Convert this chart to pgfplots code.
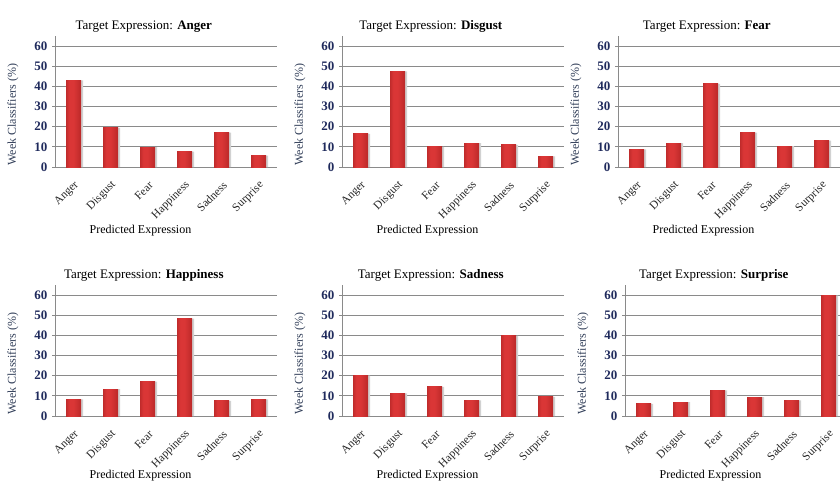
\documentclass[border=0pt]{standalone}
\usepackage{pgfplots}
\pgfplotsset{compat=1.18}
\usepackage{pgfplotstable}
\usepackage{fontspec}
\setmainfont{Liberation Serif}

\definecolor{tickblue}{HTML}{1F2A5C}
\definecolor{labelblue}{HTML}{33405A}
\definecolor{gridgray}{HTML}{8A8A8A}
\definecolor{bardark}{HTML}{861313}
\definecolor{barmid}{HTML}{DA3636}
\definecolor{barright}{HTML}{961A1A}

\pgfdeclarehorizontalshading{barshade}{100bp}{%
  color(0bp)=(bardark); color(36bp)=(barmid); color(50bp)=(barmid);
  color(64bp)=(barmid!80!bardark); color(100bp)=(barright)}

% share of weak classifiers (%) per predicted expression (rows)
% for each target expression (columns)
\pgfplotstableread{
idx anger disgust fear happiness sadness surprise
0   43.0  16.4    8.8  8.2       20.0    6.0
1   19.4  47.5    11.8 13.3      11.2    6.9
2   9.9   10.0    41.2 17.0      14.4    12.7
3   7.6   11.9    17.0 48.3      7.7     9.4
4   17.0  11.0    10.4 7.5       39.8    7.7
5   5.6   5.3     13.1 8.2       9.5     59.7
}\expdata

\pgfplotsset{
  panel/.style={
    anchor=south west,
    scale only axis,
    width=222pt, height=131pt,
    xmin=-0.5, xmax=5.5,
    ymin=0, ymax=65,
    axis x line=bottom, axis y line=left,
    axis line style={-, gridgray, line width=0.8pt},
    ymajorgrids,
    grid style={gridgray, line width=0.8pt},
    ytick={0,10,...,60},
    xtick={0,...,5},
    xticklabels={Anger,Disgust,Fear,Happiness,Sadness,Surprise},
    xtick style={draw=none},
    ytick style={gridgray, line width=0.8pt},
    tick align=outside,
    major tick length=3pt,
    /pgf/number format/assume math mode=true,
    yticklabel style={font=\fontsize{13}{13}\selectfont\bfseries,
      text=tickblue, xshift=-1pt},
    xticklabel style={font=\fontsize{11.5}{12}\selectfont,
      xshift=6pt, yshift=-11pt, rotate=45, anchor=east, text=black!85},
    title style={font=\fontsize{13}{14}\selectfont, at={(0.4,1)},
      anchor=south, yshift=-6pt},
    xlabel={Predicted Expression},
    xlabel drop/.initial=64pt,
    xlabel style={font=\fontsize{12}{13}\selectfont,
      at={([yshift=-\pgfkeysvalueof{/pgfplots/xlabel drop}]rel axis cs:0.385,0)},
      anchor=center},
    ylabel={Week Classifiers (\%)},
    ylabel style={font=\fontsize{12}{13}\selectfont, text=labelblue,
      at={([xshift=-42pt]rel axis cs:0,0.4)}, anchor=center, rotate=0},
    clip=false,
  },
  lower row/.style={xlabel drop=60pt},
  shadowbar/.style={ybar, bar width=15pt, bar shift=2pt, draw=none,
    fill=black!18},
  redbar/.style={ybar, bar width=15pt, bar shift=0pt, draw=none,
    shading=barshade},
}

% one shaded bar per category, so every bar gets its own shading
\newcommand{\panelbars}[1]{%
  \addplot[shadowbar] table[x=idx, y=#1] {\expdata};
  \pgfplotsinvokeforeach{0,...,5}{%
    \addplot[redbar, restrict x to domain=##1:##1]
      table[x=idx, y=#1] {\expdata};
  }%
}

\begin{document}
\begin{tikzpicture}[x=1pt,y=1pt]
\path[use as bounding box, clip] (0,0) rectangle (840,483);

\begin{axis}[panel, at={(55pt,316pt)},
  title={Target Expression: \textbf{Anger}}]
  \panelbars{anger}
\end{axis}

\begin{axis}[panel, at={(342pt,316pt)},
  title={Target Expression: \textbf{Disgust}}]
  \panelbars{disgust}
\end{axis}

\begin{axis}[panel, at={(618pt,316pt)},
  title={Target Expression: \textbf{Fear}}]
  \panelbars{fear}
\end{axis}

\begin{axis}[panel, lower row, at={(55pt,67pt)},
  title={Target Expression: \textbf{Happiness}}]
  \panelbars{happiness}
\end{axis}

\begin{axis}[panel, lower row, at={(342pt,67pt)},
  title={Target Expression: \textbf{Sadness}}]
  \panelbars{sadness}
\end{axis}

\begin{axis}[panel, lower row, at={(625pt,67pt)},
  title={Target Expression: \textbf{Surprise}}]
  \panelbars{surprise}
\end{axis}
\end{tikzpicture}
\end{document}
